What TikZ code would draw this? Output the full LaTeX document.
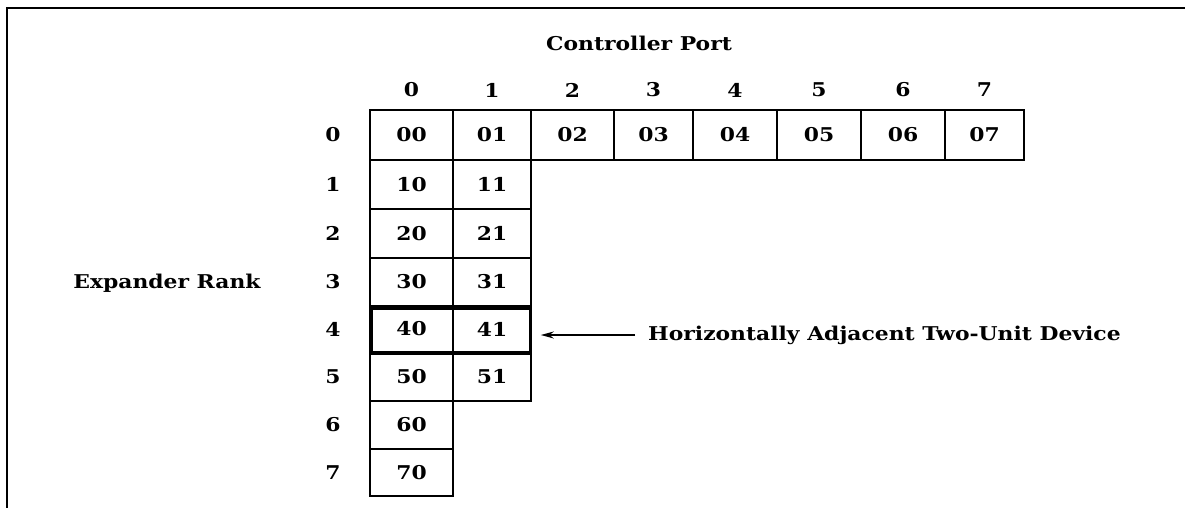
\documentclass[tikz,border=0pt]{standalone}
\usepackage{fontspec}
\setmainfont{DejaVu Serif}[FakeStretch=1.15]
\usetikzlibrary{arrows.meta}
\begin{document}
\begin{tikzpicture}[x=1pt,y=-1pt,
  txt/.style={font=\bfseries\fontsize{19}{22}\selectfont, inner sep=0pt},
  cell/.style={draw, line width=1.6pt, font=\bfseries\fontsize{19}{22}\selectfont, inner sep=0pt},
  frame/.style={line width=1.8pt},
  thickbox/.style={line width=3.6pt},
  pointer/.style={line width=1.4pt, -{Stealth[length=13pt,width=7pt]}}]
\useasboundingbox (0,0) rectangle (1185,508);
\fill[white] (0,0) rectangle (1185,508);
% frame (top and left only)
\coordinate (ftl) at (7,8);
\coordinate (ftr) at (1185,8);
\coordinate (fbl) at (7,508);
\draw[frame] (fbl) -- (ftl) -- (ftr);
% titles
\node[txt] (cport) at (639,43) {Controller Port};
\node[txt] (erank) at (167,283) {Expander Rank};
% column labels
\foreach \i/\l/\r in {0/370/453,1/453/531,2/531/614,3/614/693,4/693/777,5/777/861,6/861/945,7/945/1024}{
  \node[txt] (col\i) at ({(\l+\r)/2},90) {\i};
}
% row labels
\foreach \j/\t/\b in {0/110/160,1/160/209,2/209/258,3/258/306,4/306/352,5/352/401,6/401/449,7/449/496}{
  \node[txt] (row\j) at (333,{(\t+\b)/2}) {\j};
}
% row 0 cells
\foreach \i/\l/\r in {0/370/453,1/453/531,2/531/614,3/614/693,4/693/777,5/777/861,6/861/945,7/945/1024}{
  \node[cell, minimum width={\r-\l}, minimum height=50] (c0\i) at ({(\l+\r)/2},135) {0\i};
}
% column 0 and 1 cells
\foreach \j/\t/\b in {1/160/209,2/209/258,3/258/306,4/306/352,5/352/401}{
  \node[cell, minimum width=83, minimum height={\b-\t}] (c\j0) at (411.5,{(\t+\b)/2}) {\j0};
  \node[cell, minimum width=78, minimum height={\b-\t}] (c\j1) at (492,{(\t+\b)/2}) {\j1};
}
\foreach \j/\t/\b in {6/401/449,7/449/496}{
  \node[cell, minimum width=83, minimum height={\b-\t}] (c\j0) at (411.5,{(\t+\b)/2}) {\j0};
}
% thick two-unit device outline
\draw[thickbox] ([xshift=1.5pt,yshift=-3pt]c40.north west) rectangle ([xshift=-1.5pt,yshift=0pt]c41.south east);
% pointer
\node[txt, anchor=west] (dev) at (648,335) {Horizontally Adjacent Two-Unit Device};
\draw[pointer, shorten <=13pt, shorten >=9pt] (dev.west) -- (dev.west -| c41.east);
\end{tikzpicture}
\end{document}
